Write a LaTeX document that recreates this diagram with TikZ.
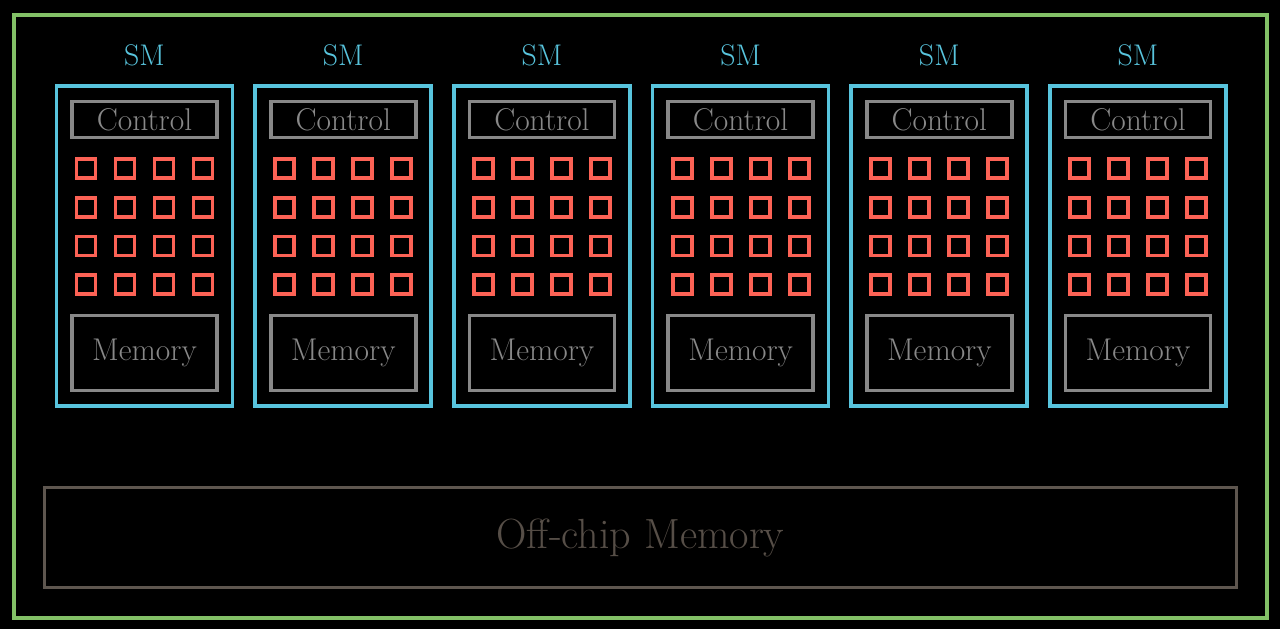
\documentclass[tikz,border=0pt]{standalone}
\usepackage{tikz}
\usetikzlibrary{positioning}
\definecolor{smblue}{HTML}{58C4DD}
\definecolor{corered}{HTML}{FC6255}
\definecolor{chipgreen}{HTML}{83C167}
\definecolor{boxgray}{HTML}{888888}
\definecolor{offbrown}{HTML}{5E564F}
\definecolor{offtext}{HTML}{564E47}

\begin{document}
\begin{tikzpicture}[
  x=0.02cm, y=-0.02cm,
  smbox/.style={
    rectangle, draw=smblue, line width=2.1pt,
    minimum width=3.52cm, minimum height=6.4cm, inner sep=0pt
  },
  part/.style={
    rectangle, draw=boxgray, line width=2.1pt, text=boxgray,
    minimum width=2.9cm, inner sep=0pt,
    font=\fontsize{17.9}{21}\selectfont
  },
  core/.style={
    rectangle, draw=corered, line width=2.2pt,
    minimum size=0.38cm, inner sep=0pt
  },
  smlabel/.style={text=smblue, font=\fontsize{17}{20}\selectfont}
]
  \fill[black] (0,0) rectangle (1280,629);
  \useasboundingbox (0,0) rectangle (1280,629);
  \node[draw=chipgreen, line width=2.1pt, minimum width=25.06cm,
    minimum height=12.06cm, inner sep=0pt] (chip) at (640.5,316.5){};
  \foreach \i in {1,...,6} {
    \pgfmathsetmacro{\cx}{144.5+198.7*(\i-1)}
    \node[smbox] (sm\i) at (\cx,246){};
    \node[smlabel] (lbl\i) at (\cx,55){SM};
    \node[part, minimum height=0.72cm] (ctl\i) at (\cx,119.5){Control};
    \node[part, minimum height=1.5cm] (mem\i) at (\cx,353){Memory};
    \foreach \r/\ry in {1/168.5,2/207.3,3/246,4/284.7} {
      \foreach \c/\dx in {1/-58.5,2/-19.5,3/19.5,4/58.5} {
        \node[core] (core\i-\r-\c) at (\cx+\dx,\ry){};
      }
    }
  }
  \node[draw=offbrown, line width=1.9pt, text=offtext,
    minimum width=23.84cm, minimum height=2cm, inner sep=0pt,
    font=\fontsize{24}{28}\selectfont] (offchip) at (640.5,537.5){Off-chip Memory};
\end{tikzpicture}
\end{document}
